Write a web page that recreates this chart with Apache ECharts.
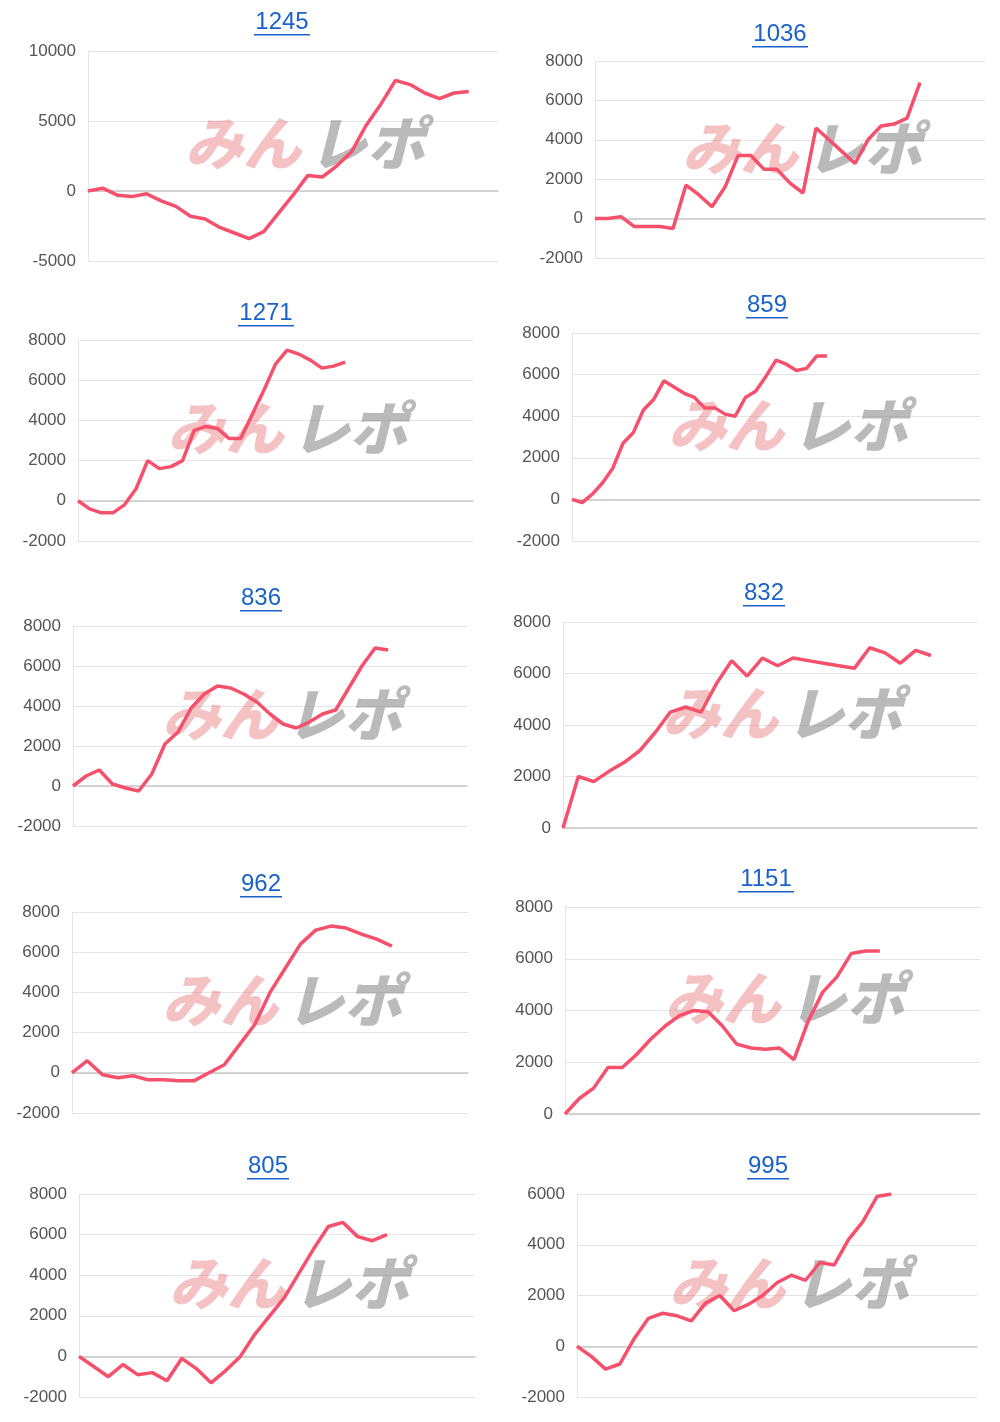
<!DOCTYPE html>
<html>
<head>
<meta charset="utf-8">
<script src="https://cdn.jsdelivr.net/npm/echarts@6/dist/echarts.min.js"></script>
<style>
  html, body { margin: 0; padding: 0; background: #fff; }
  #chart { width: 1000px; height: 1422px; }
</style>
</head>
<body>
<div id="chart"></div>
<script>
// panel titles (machine numbers)
const titles = ['1245', '1036', '1271', '859', '836', '832', '962', '1151', '805', '995']

// cumulative values per panel
const s1245 = [0, 200, -300, -400, -200, -700, -1100, -1800, -2000, -2600, -3000, -3400, -2900, -1600, -300, 1100, 1000, 1800, 2800, 4700, 6200, 7900, 7600, 7000, 6600, 7000, 7100]
const s1036 = [0, 0, 100, -400, -400, -400, -500, 1700, 1200, 600, 1600, 3200, 3200, 2500, 2500, 1800, 1300, 4600, 4000, 3400, 2800, 4000, 4700, 4800, 5100, 6900]
const s1271 = [0, -400, -600, -600, -200, 600, 2000, 1600, 1700, 2000, 3500, 3700, 3600, 3100, 3100, 4300, 5500, 6800, 7500, 7300, 7000, 6600, 6700, 6900]
const s859 = [0, -150, 250, 800, 1500, 2700, 3200, 4300, 4800, 5700, 5400, 5100, 4900, 4400, 4400, 4100, 4000, 4900, 5200, 5900, 6700, 6500, 6200, 6300, 6900, 6900]
const s836 = [0, 500, 800, 100, -100, -250, 600, 2100, 2700, 3900, 4600, 5000, 4900, 4600, 4200, 3600, 3100, 2900, 3200, 3600, 3800, 4900, 6000, 6900, 6800]
const s832 = [0, 2000, 1800, 2200, 2550, 3000, 3700, 4500, 4700, 4500, 5600, 6500, 5900, 6600, 6300, 6600, 6500, 6400, 6300, 6200, 7000, 6800, 6400, 6900, 6700]
const s962 = [0, 600, -100, -250, -150, -350, -350, -400, -400, 0, 400, 1400, 2400, 4000, 5200, 6400, 7100, 7300, 7200, 6900, 6650, 6300]
const s1151 = [0, 600, 1000, 1800, 1800, 2300, 2900, 3400, 3800, 4000, 3950, 3400, 2700, 2550, 2500, 2550, 2100, 3600, 4700, 5300, 6200, 6300, 6300]
const s805 = [0, -500, -1000, -400, -900, -800, -1200, -100, -600, -1300, -700, 0, 1100, 2000, 2900, 4100, 5300, 6400, 6600, 5900, 5700, 6000]
const s995 = [0, -400, -900, -700, 300, 1100, 1300, 1200, 1000, 1700, 2000, 1400, 1650, 2000, 2500, 2800, 2600, 3300, 3200, 4200, 4900, 5900, 6000]
const seriesList = [s1245, s1036, s1271, s859, s836, s832, s962, s1151, s805, s995]

// number of x slots per panel
const slotCounts = [29, 31, 35, 41, 31, 28, 27, 30, 28, 29]

// y axis ranges [min, max, interval]
const yRanges = [
  [-5000, 10000, 5000], [-2000, 8000, 2000], [-2000, 8000, 2000], [-2000, 8000, 2000], [-2000, 8000, 2000],
  [0, 8000, 2000], [-2000, 8000, 2000], [0, 8000, 2000], [-2000, 8000, 2000], [-2000, 6000, 2000]
]

// panel layout: plot rect [left, top, right, bottom], title centre [x, y]
const layout = [
  { rect: [88, 51, 498, 261], title: [282, 22] },
  { rect: [595, 61, 985, 258], title: [780, 34] },
  { rect: [78, 340, 473, 541], title: [266, 313] },
  { rect: [572, 333, 980, 541], title: [767, 305] },
  { rect: [73, 626, 467, 826], title: [261, 598] },
  { rect: [563, 622, 977, 828], title: [764, 593] },
  { rect: [72, 912, 468, 1113], title: [261, 884] },
  { rect: [565, 907, 980, 1114], title: [766, 879] },
  { rect: [79, 1194, 475, 1397], title: [268, 1166] },
  { rect: [577, 1194, 977, 1397], title: [768, 1166] }
]

const chart = echarts.init(document.getElementById('chart'))
const font = 'Helvetica, Arial, "Liberation Sans", sans-serif'

const grid = [], xAxis = [], yAxis = [], series = [], graphic = []

layout.forEach((p, i) => {
  const [l, t, r, b] = p.rect
  grid.push({ left: l, top: t, width: r - l, height: b - t })
  xAxis.push({
    type: 'category', gridIndex: i, boundaryGap: false,
    data: Array.from({ length: slotCounts[i] }, (_, k) => String(k + 1)),
    axisLine: { show: true, onZero: true, lineStyle: { color: '#c8c8c8', width: 1.5 } },
    axisTick: { show: false }, axisLabel: { show: false }, splitLine: { show: false }
  })
  const [mn, mx, iv] = yRanges[i]
  yAxis.push({
    type: 'value', gridIndex: i, min: mn, max: mx, interval: iv,
    axisLine: { show: true, lineStyle: { color: '#e4e4e4' } },
    axisTick: { show: false },
    axisLabel: { color: '#555', fontSize: 17, fontFamily: font, margin: 12, formatter: v => String(v) },
    splitLine: { lineStyle: { color: '#e4e4e4', width: 1.2 } }
  })
  series.push({
    type: 'line', xAxisIndex: i, yAxisIndex: i, data: seriesList[i],
    showSymbol: false, smooth: false, z: 3,
    lineStyle: { color: '#f5506c', width: 3.5 }
  })

  // title with underline
  const [tx, ty] = p.title
  const w = titles[i].length * 14
  graphic.push({
    type: 'text', x: tx, y: ty, z: 10,
    style: { text: titles[i], fill: '#1a62c9', fontSize: 24, fontFamily: font, align: 'center', verticalAlign: 'middle' }
  })
  graphic.push({
    type: 'rect', shape: { x: tx - w / 2, y: ty + 12, width: w, height: 1.6 }, z: 10,
    style: { fill: '#1a62c9' }
  })

  // watermark
  const cx = (l + r) / 2 + 12
  const cy = t + (b - t) * 0.44
  graphic.push({
    type: 'text', x: cx - 4, y: cy, z: 1,
    style: { text: 'みん', fill: 'rgba(232,120,125,0.45)', fontSize: 58, fontWeight: 900, fontStyle: 'italic',
      fontFamily: '"Noto Sans CJK JP", sans-serif', align: 'right', verticalAlign: 'middle' }
  })
  graphic.push({
    type: 'text', x: cx + 4, y: cy, z: 1,
    style: { text: 'レポ', fill: 'rgba(140,140,140,0.6)', fontSize: 58, fontWeight: 900, fontStyle: 'italic',
      fontFamily: '"Noto Sans CJK JP", sans-serif', align: 'left', verticalAlign: 'middle' }
  })
})

chart.setOption({
  animation: false,
  grid, xAxis, yAxis, series, graphic
})
</script>
</body>
</html>
